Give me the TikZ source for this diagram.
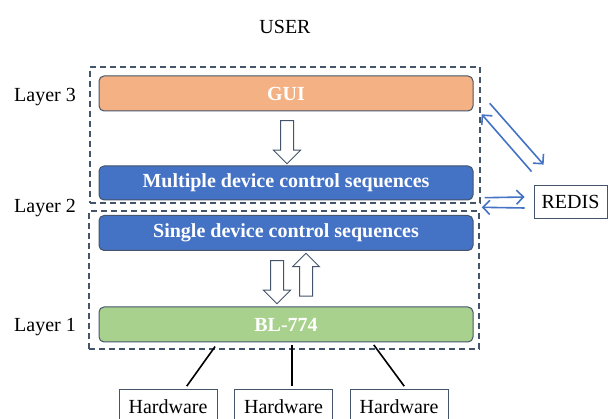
\documentclass[tikz,border=0pt]{standalone}
\usepackage{fontspec}
\setmainfont{Liberation Serif}
\usetikzlibrary{arrows.meta,shapes.arrows}
\definecolor{guiorange}{HTML}{F4B183}
\definecolor{seqblue}{HTML}{4472C4}
\definecolor{blgreen}{HTML}{A9D18E}
\definecolor{edgegray}{HTML}{44546A}

\begin{document}
\begin{tikzpicture}[x=1pt,y=-1pt,
        every node/.style={font=\fontsize{20}{24}\selectfont},
        layerbox/.style={rectangle,rounded corners=5pt,draw=edgegray,line width=1pt,minimum width=374pt,minimum height=35pt,text=white,font=\fontsize{20}{24}\selectfont\bfseries},
        dashbox/.style={rectangle,draw=edgegray,dashed,dash pattern=on 6pt off 4pt,line width=1.4pt,minimum width=390pt},
        hwbox/.style={rectangle,draw=edgegray,line width=0.8pt,minimum width=98pt,minimum height=35pt},
        hollow/.style={single arrow,draw=edgegray,line width=1pt,fill=white,inner sep=6pt,single arrow head extend=7pt,minimum height=43pt},
        redisarrow/.style={-{Straight Barb[length=7pt,width=14pt]},seqblue,line width=1.6pt}]
        \useasboundingbox (0,0) rectangle (608,419);
        \clip (0,0) rectangle (608,419);
        \node (user) at (285,27) {USER};
        \node [dashbox,minimum height=136pt] (upper) at (285,135) {};
        \node [dashbox,minimum height=138pt] (lower) at (284,280) {};
        \node [layerbox,fill=guiorange] (gui) at (286,93.5) {GUI};
        \node [layerbox,fill=seqblue,minimum height=34pt] (multi) at (286,183) {Multiple device control sequences};
        \node [layerbox,fill=seqblue] (single) at (286,233) {Single device control sequences};
        \node [layerbox,fill=blgreen] (bl) at (286,324.5) {BL-774};
        \node (layer3) at (45,97) {Layer 3};
        \node (layer2) at (45,208) {Layer 2};
        \node (layer1) at (45,327) {Layer 1};
        \node [hwbox] (hw1) at (168,406.5) {Hardware};
        \node [hwbox] (hw2) at (283.5,406.5) {Hardware};
        \node [hwbox] (hw3) at (399,406.5) {Hardware};
        \node [rectangle,draw=edgegray,line width=0.8pt,minimum width=73pt,minimum height=33pt] (redis) at (570.5,201.5) {REDIS};
        \node [hollow,shape border rotate=270] (guidown) at (287,139) {};
        \node [hollow,shape border rotate=270] (bldown) at (277,279) {};
        \node [hollow,shape border rotate=90] (blup) at (306,278) {};
        \draw [line width=1.6pt,shorten <=5pt,shorten >=3pt] ([xshift=-68pt]bl.south) -- ([xshift=17pt]hw1.north);
        \draw [line width=1.6pt,shorten <=3pt,shorten >=3pt] ([xshift=6pt]bl.south) -- ([xshift=8.5pt]hw2.north);
        \draw [line width=1.6pt,shorten <=3pt,shorten >=3pt] ([xshift=86pt]bl.south) -- ([xshift=7pt]hw3.north);
        \draw [redisarrow] ([xshift=9pt,yshift=-37pt]upper.north east) -- ([xshift=10pt,yshift=20pt]redis.north west);
        \draw [redisarrow] ([xshift=-2pt,yshift=13pt]redis.north west) -- ([xshift=1pt,yshift=-48pt]upper.north east);
        \draw [redisarrow] ([xshift=4pt,yshift=6pt]upper.south east) -- ([xshift=-9pt,yshift=4.5pt]redis.west);
        \draw [redisarrow] ([xshift=-9pt,yshift=-6.5pt]redis.west) -- ([xshift=2pt,yshift=3pt]lower.north east);
      \end{tikzpicture}
\end{document}
